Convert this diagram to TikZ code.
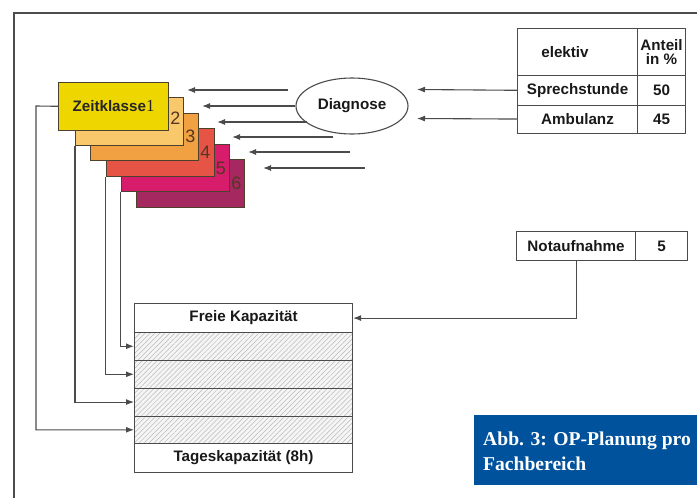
\documentclass[tikz,border=0pt]{standalone}
\usepackage{fontspec}
\setmainfont{Liberation Sans}
\newfontfamily\capfont{Liberation Serif}
\newfontfamily\onefont{Liberation Serif}
\usetikzlibrary{arrows.meta,shapes.geometric,patterns.meta}
\definecolor{c1}{RGB}{238,214,0}
\definecolor{c2}{RGB}{249,200,106}
\definecolor{c3}{RGB}{241,160,66}
\definecolor{c4}{RGB}{230,84,70}
\definecolor{c5}{RGB}{214,28,106}
\definecolor{c6}{RGB}{166,40,96}
\definecolor{edge}{RGB}{75,65,45}
\definecolor{linec}{RGB}{75,75,75}
\definecolor{numc}{RGB}{85,55,35}
\definecolor{capblue}{RGB}{0,82,156}
\begin{document}
\begin{tikzpicture}[x=1pt,y=-1pt,
  lbl/.style={font=\fontsize{15.2}{14}\selectfont\bfseries, text=black!90},
  zbox/.style={draw=edge, line width=1.1pt, minimum width=108pt, minimum height=47.5pt, inner sep=0pt, anchor=north west},
  cell/.style={draw=linec, line width=1.1pt, inner sep=0pt, anchor=north west, lbl},
  hatch/.style={cell, minimum width=218pt, preaction={fill=gray!8}, pattern={Lines[angle=45,distance=3.5pt,line width=0.5pt]}, pattern color=gray!55},
  arr/.style={draw=linec, line width=1.1pt, -{Latex[length=8pt,width=6pt]}},
  num/.style={font=\fontsize{18}{18}\selectfont, text=numc, inner sep=0pt},
  captxt/.style={font=\capfont\bfseries\fontsize{19.6}{25}\selectfont, text=white, inner sep=0pt},
]
\useasboundingbox (0,0) rectangle (697,498);
% frame
\draw[line width=1.3pt, draw=black!70] (14,498) -- (14,13) -- (697,13);

% coordinates
\coordinate (a1) at (187,90);
\coordinate (a2) at (202,106);
\coordinate (a3) at (217,122);
\coordinate (a4) at (232,137);
\coordinate (a5) at (248,152);
\coordinate (a6) at (263,168);
\coordinate (s1) at (288,90);
\coordinate (s3) at (307,122);
\coordinate (s4) at (333,137);
\coordinate (s5) at (350,152);
\coordinate (s6) at (365,168);
\coordinate (d1) at (417,89.5);
\coordinate (d2) at (417,118.5);
\coordinate (k1) at (36,106);

% boxes (bottom to top)
\node[zbox, fill=c6] (z6) at (136,159) {};
\node[zbox, fill=c5] (z5) at (120.5,143.5) {};
\node[zbox, fill=c4] (z4) at (105.5,128) {};
\node[zbox, fill=c3] (z3) at (90,112.5) {};
\node[zbox, fill=c2] (z2) at (75,97) {};
\node[zbox, fill=c1, minimum width=110pt, lbl, text=black!85] (z1) at (58,82) {Zeitklasse{\onefont\mdseries\fontsize{17}{17}\selectfont 1}};

\node[num] (n2) at (175.5,118) {2};
\node[num] (n3) at (190.5,136) {3};
\node[num] (n4) at (205.5,152) {4};
\node[num] (n5) at (221,168) {5};
\node[num] (n6) at (236.5,183) {6};

% Diagnose
\node[ellipse, draw=linec, line width=1.1pt, minimum width=112pt, minimum height=56pt, inner sep=0pt, lbl] (diag) at (352,106) {Diagnose};

% top table
\node[cell, minimum width=120pt, minimum height=47pt] (hA) at (517,28) {};
\node[lbl, inner sep=0pt] (elk) at (565,52) {elektiv};
\node[cell, minimum width=48pt, minimum height=47pt, align=center] (hB) at (637,28) {Anteil\\in \%};
\node[cell, minimum width=120pt, minimum height=29.5pt] (sp) at (517,75) {Sprechstunde};
\node[cell, minimum width=48pt, minimum height=29.5pt] (spv) at (637,75) {50};
\node[cell, minimum width=120pt, minimum height=28pt] (am) at (517,104.5) {Ambulanz};
\node[cell, minimum width=48pt, minimum height=28pt] (amv) at (637,104.5) {45};

% Notaufnahme
\node[cell, minimum width=119pt, minimum height=29pt] (noA) at (516,231) {Notaufnahme};
\node[cell, minimum width=52pt, minimum height=29pt] (noB) at (635,231) {5};

% capacity
\node[cell, minimum width=218pt, minimum height=29pt] (fk) at (134,303) {Freie Kapazität};
\node[hatch, minimum height=28pt] (h1) at (134,332) {};
\node[hatch, minimum height=27.5pt] (h2) at (134,360) {};
\node[hatch, minimum height=28pt] (h3) at (134,387.5) {};
\node[hatch, minimum height=27.5pt] (h4) at (134,415.5) {};
\node[cell, minimum width=218pt, minimum height=29pt] (tk) at (134,443) {Tageskapazität (8h)};

% arrows to boxes
\draw[arr] (s1) -- (a1);
\draw[arr] (diag.west) -- (a2);
\draw[arr] (s3) -- (a3);
\draw[arr] (s4) -- (a4);
\draw[arr] (s5) -- (a5);
\draw[arr] (s6) -- (a6);
\draw[arr] (sp.west) -- (d1);
\draw[arr] (am.west) -- (d2);
\draw[arr] (noA.south) |- (fk.east);

% left connectors
\draw[arr] (z1.west) -- (k1) |- (h4.west);
\draw[arr] (z2.south west) |- (h3.west);
\draw[arr] (z4.south west) |- (h2.west);
\draw[arr] (z5.south west) |- (h1.west);

% caption
\node[fill=capblue, minimum width=223pt, minimum height=70pt, inner sep=0pt, anchor=north west] (cap) at (474,415) {};
\node[captxt, anchor=base west] (cap1) at (483,445) {Abb. 3: OP-Planung pro};
\node[captxt, anchor=base west] (cap2) at (483,470) {Fachbereich};
\end{tikzpicture}
\end{document}
